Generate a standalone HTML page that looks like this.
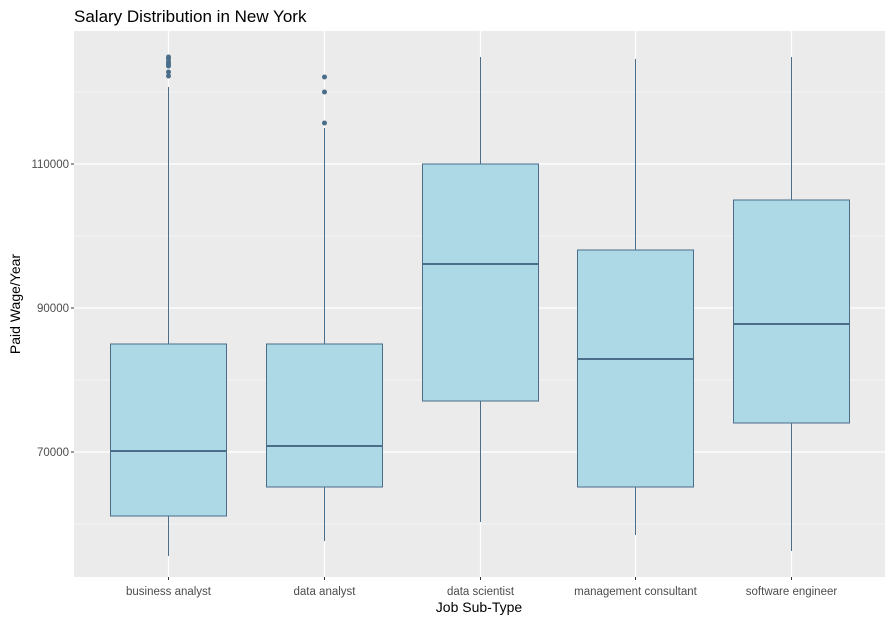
<!DOCTYPE html>
<html><head><meta charset="utf-8"><style>
body{margin:0;background:#fff;font-family:"Liberation Sans",sans-serif}
</style></head><body>
<svg id="chart" width="890" height="622" xmlns="http://www.w3.org/2000/svg">
<rect width="890" height="622" fill="#fff"/>
<text x="74" y="22" font-size="17" fill="#000">Salary Distribution in New York</text>
<rect x="74" y="31" width="811" height="546" fill="#ebebeb"/>
<g id="grid"></g>
<g id="boxes"></g>
<g id="axes"></g>
<text x="479" y="612" font-size="14" text-anchor="middle">Job Sub-Type</text>
<text transform="translate(20,304) rotate(-90)" font-size="14" text-anchor="middle">Paid Wage/Year</text>
</svg>
<script>
const categories=["business analyst","data analyst","data scientist","management consultant","software engineer"];
const lowWhisker=[55556,57639,60278,58472,56250];
const q1=[61111,65139,77083,65139,74028];
const medians=[70139,70833,96111,82917,87778];
const q3=[85000,85000,110000,98056,105000];
const highWhisker=[120694,115000,124861,124583,124861];
const outliers=[[124861,124583,124167,123889,123611,122778,122222],[115694,120000,122083],[],[],[]];
const majorTicks=[70000,90000,110000];
const minorTicks=[60000,80000,100000,120000];
const NS="http://www.w3.org/2000/svg";
const PL=74,PR=885,PT=31,PB=577;
const step=(PR-PL)/5.2;
function xS(i){return PL+(i+0.6)*step;}
function yS(v){return 452-(v-70000)*0.0072;}
function mk(tag,attrs,parent){const e=document.createElementNS(NS,tag);for(const k in attrs)e.setAttribute(k,attrs[k]);parent.appendChild(e);return e;}
const grid=document.getElementById('grid'),boxes=document.getElementById('boxes'),axes=document.getElementById('axes');
minorTicks.forEach(v=>{const l=mk('line',{x1:PL,x2:PR,y1:yS(v),y2:yS(v),stroke:'#fff','stroke-width':0.6},grid);

});
majorTicks.forEach(v=>{const l=mk('line',{x1:PL,x2:PR,y1:yS(v),y2:yS(v),stroke:'#fff','stroke-width':1.2},grid);


mk('line',{x1:PL-3,x2:PL,y1:yS(v),y2:yS(v),stroke:'#333'},axes);
const t=mk('text',{x:PL-5,y:yS(v)+4,'font-size':11.5,fill:'#4d4d4d','text-anchor':'end'},axes);t.textContent=v;

});
categories.forEach((c,i)=>{const x=Math.round(xS(i))+0.5;
const g=mk('line',{x1:x,x2:x,y1:PT,y2:PB,stroke:'#fff','stroke-width':1.2},grid);


mk('line',{x1:x,x2:x,y1:PB,y2:PB+3,stroke:'#333'},axes);
const t=mk('text',{x:x,y:PB+18,'font-size':11.5,fill:'#4d4d4d','text-anchor':'middle'},axes);t.textContent=c;


const col='#4a6e8a',hw=Math.round(step*0.375);
const bg=mk('g',{},boxes);


mk('line',{x1:x,x2:x,y1:yS(highWhisker[i]),y2:yS(q3[i]),stroke:col,'stroke-width':1},bg);
mk('line',{x1:x,x2:x,y1:yS(q1[i]),y2:yS(lowWhisker[i]),stroke:col,'stroke-width':1},bg);
mk('rect',{x:x-hw,y:yS(q3[i]),width:2*hw,height:yS(q1[i])-yS(q3[i]),fill:'#add8e6',stroke:col,'stroke-width':1},bg);
mk('line',{x1:x-hw,x2:x+hw,y1:yS(medians[i]),y2:yS(medians[i]),stroke:col,'stroke-width':2},bg);
outliers[i].forEach(v=>{const p=mk('circle',{cx:x,cy:yS(v),r:2.5,fill:col},bg);

});
});
</script>
</body></html>
